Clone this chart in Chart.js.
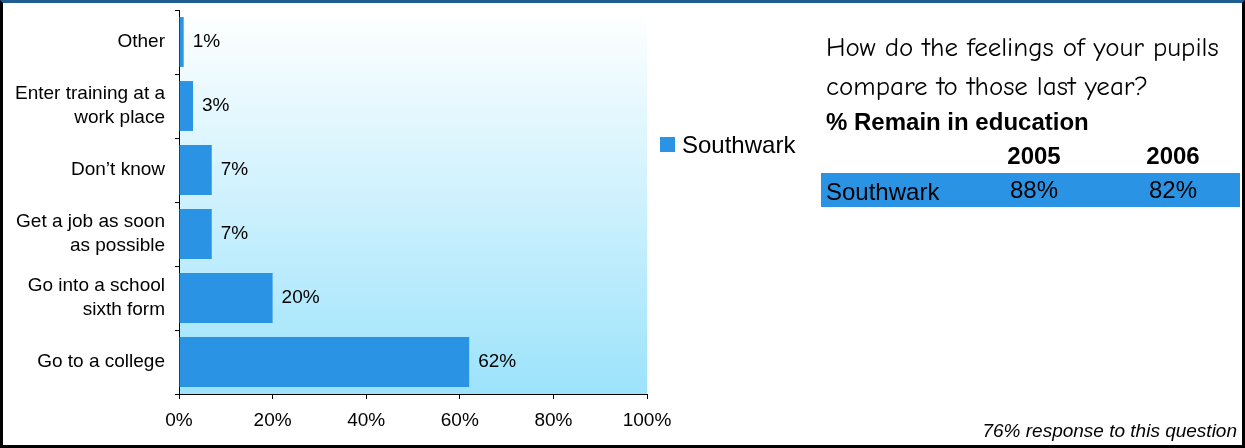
<!DOCTYPE html>
<html>
<head>
<meta charset="utf-8">
<script src="https://cdn.jsdelivr.net/npm/chart.js@4.4.1/dist/chart.umd.min.js"></script>
<style>
  body { margin: 0; background: #fff; }
  #wrap { position: relative; width: 1245px; height: 448px; overflow: hidden; font-family: "Liberation Sans", Arial, sans-serif; color: #000; }
  #chart { position: absolute; left: 0; top: 0; }
  #frame { position: absolute; left: 0; top: 0; width: 1245px; height: 448px; box-sizing: border-box;
           border-left: 3px solid #000; border-right: 3px solid #000; border-bottom: 3px solid #000; border-top: 3px solid #1f5d92; pointer-events: none; }
  .abs { position: absolute; white-space: nowrap; }
  .q { font-family: "Comic Sans MS", "Comic Neue", "DejaVu Sans", sans-serif; font-size: 27px; line-height: 30px; left: 826px; }
  .big { font-size: 24px; line-height: 26px; }
  .b { font-weight: bold; }
</style>
</head>
<body>
<div id="wrap">
  <canvas id="chart" width="1245" height="448"></canvas>
  <div id="legend"></div>
  <div id="side"></div>
  <div class="abs" id="note" style="right:8px;top:419px;font-size:19px;line-height:24px;font-style:italic;"></div>
  <div id="frame"></div>
</div>
<script>
// Where pupils want to go
var categories = [['Other'], ['Enter training at a', 'work place'], ['Don\u2019t know'],
                  ['Get a job as soon', 'as possible'], ['Go into a school', 'sixth form'], ['Go to a college']];
var seriesName = 'Southwark';
var values = [1, 3, 7, 7, 20, 62];
var xTicks = [0, 20, 40, 60, 80, 100];

// side table
var questionLines = ['How do the feelings of your pupils', 'compare to those last year?'];
var tableTitle = '% Remain in education';
var tableYears = ['2005', '2006'];
var tableValues = [88, 82];
var footNote = '76% response to this question';

var barColor = '#2b93e3';
var font = '"Liberation Sans", Arial, sans-serif';

// gradient behind the bars
var plotBackground = {
    id: 'plotBackground',
    beforeDraw: function (chart) {
        var a = chart.chartArea, c = chart.ctx;
        var g = c.createLinearGradient(0, a.top, 0, a.bottom);
        g.addColorStop(0, '#ffffff');
        g.addColorStop(1, '#9ce3fb');
        c.save();
        c.fillStyle = g;
        c.fillRect(a.left, a.top, a.right - a.left, a.bottom - a.top);
        c.restore();
    }
};

// value labels at the end of each bar
var barLabels = {
    id: 'barLabels',
    afterDatasetsDraw: function (chart) {
        var c = chart.ctx;
        var meta = chart.getDatasetMeta(0);
        c.save();
        c.font = '19px ' + font;
        c.fillStyle = '#000';
        c.textBaseline = 'middle';
        meta.data.forEach(function (bar, i) {
            c.fillText(values[i] + '%', bar.x + 9, bar.y);
        });
        c.restore();
    }
};

var ctx = document.getElementById('chart');
var myChart = new Chart(ctx, {
    type: 'bar',
    data: {
        labels: categories,
        datasets: [{
            label: seriesName,
            data: values,
            backgroundColor: barColor,
            barPercentage: 0.78,
            categoryPercentage: 1
        }]
    },
    options: {
        indexAxis: 'y',
        responsive: false,
        animation: false,
        layout: { padding: { left: 3, top: 10, right: 598, bottom: 4 } },
        plugins: { legend: { display: false }, tooltip: { enabled: false } },
        scales: {
            x: {
                min: 0,
                max: 100,
                afterBuildTicks: function (s) { s.ticks = xTicks.map(function (v) { return { value: v }; }); },
                ticks: { callback: function (v) { return v + '%'; }, color: '#000', font: { family: font, size: 19 }, padding: 10, maxRotation: 0 },
                grid: { drawOnChartArea: false, color: '#000', tickLength: 5 },
                border: { color: '#000', width: 1 },
                afterFit: function (s) { s.height = 50; s.paddingLeft = 0; s.paddingRight = 0; }
            },
            y: {
                ticks: { color: '#000', font: { family: font, size: 19, lineHeight: 1.28 }, padding: 10 },
                grid: { drawOnChartArea: false, color: '#000', tickLength: 4, offset: true },
                border: { color: '#000', width: 1 },
                afterFit: function (s) { s.width = 176; s.paddingTop = 0; s.paddingBottom = 0; }
            }
        }
    },
    plugins: [plotBackground, barLabels]
});

// legend
document.getElementById('legend').innerHTML =
    '<div class="abs" style="left:660px;top:137px;width:15px;height:15px;background:' + barColor + '"></div>' +
    '<div class="abs big" style="left:682px;top:132px;">' + seriesName + '</div>';

// side table
var yearX = [1034, 1173];
var html = '';
html += '<div class="abs q" style="top:33px;">' + questionLines[0] + '</div>';
html += '<div class="abs q" style="top:72px;">' + questionLines[1] + '</div>';
html += '<div class="abs big b" style="left:826px;top:109px;">' + tableTitle + '</div>';
tableYears.forEach(function (y, i) {
    html += '<div class="abs big b" style="left:' + (yearX[i] - 50) + 'px;width:100px;text-align:center;top:143px;">' + y + '</div>';
});
html += '<div class="abs" style="left:821px;top:173px;width:419px;height:34px;background:' + barColor + '"></div>';
html += '<div class="abs big" style="left:826px;top:179px;">' + seriesName + '</div>';
tableValues.forEach(function (v, i) {
    html += '<div class="abs big" style="left:' + (yearX[i] - 50) + 'px;width:100px;text-align:center;top:177px;">' + v + '%</div>';
});
document.getElementById('side').innerHTML = html;
document.getElementById('note').textContent = footNote;
</script>
</body>
</html>
